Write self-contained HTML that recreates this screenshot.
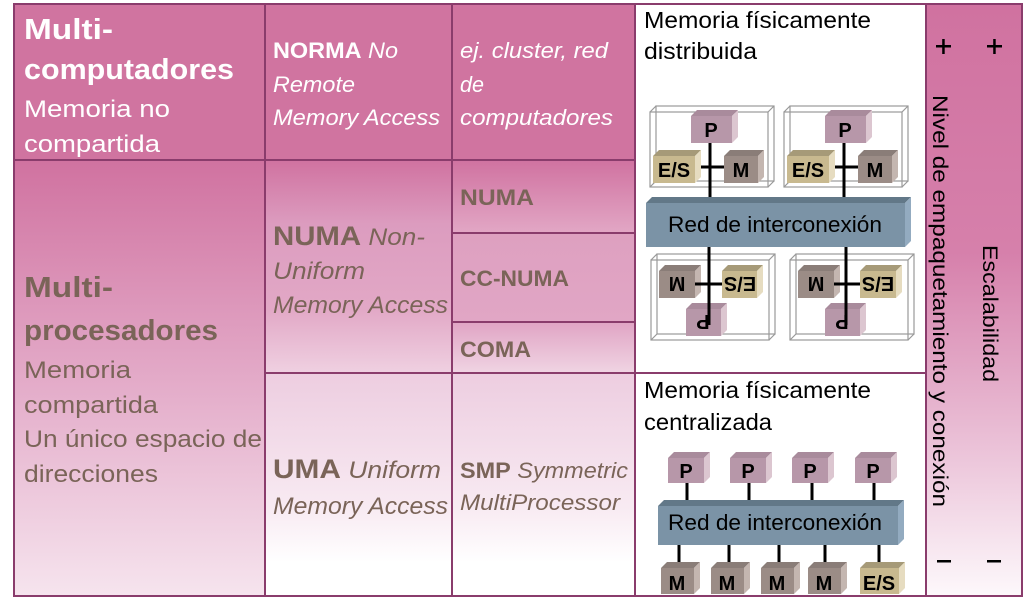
<!DOCTYPE html>
<html><head><meta charset="utf-8"><style>
html,body{margin:0;padding:0;background:#fff;width:1036px;height:603px;overflow:hidden}
svg{display:block}
text{font-family:"Liberation Sans",sans-serif}
</style></head><body>
<svg width="1036" height="603" viewBox="0 0 1036 603" xmlns="http://www.w3.org/2000/svg">
<defs>
<linearGradient id="gMP" x1="0" y1="0" x2="0" y2="1"><stop offset="0" stop-color="#d072a0"/><stop offset="0.5" stop-color="#e3aac8"/><stop offset="1" stop-color="#f6e4ee"/></linearGradient>
<linearGradient id="gNUMA" x1="0" y1="0" x2="0" y2="1"><stop offset="0" stop-color="#d072a0"/><stop offset="0.3" stop-color="#dc9cbf"/><stop offset="0.7" stop-color="#e2a8c6"/><stop offset="1" stop-color="#efd0e1"/></linearGradient>
<linearGradient id="gUMA" x1="0" y1="0" x2="0" y2="1"><stop offset="0" stop-color="#edcde0"/><stop offset="0.6" stop-color="#f8eaf2"/><stop offset="0.85" stop-color="#ffffff"/></linearGradient>
<linearGradient id="gS1" x1="0" y1="0" x2="0" y2="1"><stop offset="0" stop-color="#d072a0"/><stop offset="1" stop-color="#e2a7c5"/></linearGradient>
<linearGradient id="gS2" x1="0" y1="0" x2="0" y2="1"><stop offset="0" stop-color="#dea0c0"/><stop offset="1" stop-color="#e1a6c5"/></linearGradient>
<linearGradient id="gS3" x1="0" y1="0" x2="0" y2="1"><stop offset="0" stop-color="#e0a4c4"/><stop offset="1" stop-color="#f0d4e3"/></linearGradient>
<linearGradient id="gR" x1="0" y1="0" x2="0" y2="1"><stop offset="0" stop-color="#d072a0"/><stop offset="0.42" stop-color="#d680ab"/><stop offset="0.75" stop-color="#ebc2d8"/><stop offset="1" stop-color="#fdf8fb"/></linearGradient>
</defs>

<rect x="14" y="4" width="621" height="156" fill="#d074a0"/>
<rect x="14" y="160" width="251" height="436" fill="url(#gMP)"/>
<rect x="265" y="160" width="187" height="213" fill="url(#gNUMA)"/>
<rect x="452" y="160" width="183" height="73" fill="url(#gS1)"/>
<rect x="452" y="233" width="183" height="89" fill="url(#gS2)"/>
<rect x="452" y="322" width="183" height="51" fill="url(#gS3)"/>
<rect x="265" y="373" width="370" height="223" fill="url(#gUMA)"/>
<rect x="635" y="4" width="291" height="592" fill="#fff"/>
<rect x="926" y="4" width="96" height="592" fill="url(#gR)"/>

<g stroke="#8a3c6c" stroke-width="2" fill="none">
<rect x="14" y="4" width="1008" height="592"/>
<line x1="265" y1="4" x2="265" y2="596"/>
<line x1="452" y1="4" x2="452" y2="596"/>
<line x1="635" y1="4" x2="635" y2="596"/>
<line x1="926" y1="4" x2="926" y2="596"/>
<line x1="14" y1="160" x2="635" y2="160"/>
<line x1="452" y1="233" x2="635" y2="233"/>
<line x1="452" y1="322" x2="635" y2="322"/>
<line x1="265" y1="373" x2="926" y2="373"/>
</g>

<g fill="#fff">
<text x="24" y="39" font-size="29" font-weight="bold" textLength="89" lengthAdjust="spacingAndGlyphs">Multi-</text>
<text x="24" y="79" font-size="29" font-weight="bold" textLength="210" lengthAdjust="spacingAndGlyphs">computadores</text>
<text x="24" y="117" font-size="24" textLength="146" lengthAdjust="spacingAndGlyphs">Memoria no</text>
<text x="24" y="152" font-size="24" textLength="136" lengthAdjust="spacingAndGlyphs">compartida</text>
<text x="273" y="58" font-size="22" textLength="125" lengthAdjust="spacingAndGlyphs"><tspan font-weight="bold">NORMA</tspan> <tspan font-style="italic">No</tspan></text>
<text x="273" y="92" font-size="22" font-style="italic" textLength="82" lengthAdjust="spacingAndGlyphs">Remote</text>
<text x="273" y="125" font-size="22" font-style="italic" textLength="167" lengthAdjust="spacingAndGlyphs">Memory Access</text>
<text x="460" y="58" font-size="22" font-style="italic" textLength="148" lengthAdjust="spacingAndGlyphs">ej. cluster, red</text>
<text x="460" y="92" font-size="22" font-style="italic" textLength="24" lengthAdjust="spacingAndGlyphs">de</text>
<text x="460" y="125" font-size="22" font-style="italic" textLength="153" lengthAdjust="spacingAndGlyphs">computadores</text>
</g>
<g fill="#7a6458">
<text x="24" y="297" font-size="29" font-weight="bold" textLength="89" lengthAdjust="spacingAndGlyphs">Multi-</text>
<text x="24" y="340" font-size="29" font-weight="bold" textLength="194" lengthAdjust="spacingAndGlyphs">procesadores</text>
<text x="24" y="378" font-size="24" textLength="107" lengthAdjust="spacingAndGlyphs">Memoria</text>
<text x="24" y="413" font-size="24" textLength="134" lengthAdjust="spacingAndGlyphs">compartida</text>
<text x="24" y="447" font-size="24" textLength="238" lengthAdjust="spacingAndGlyphs">Un único espacio de</text>
<text x="24" y="482" font-size="24" textLength="134" lengthAdjust="spacingAndGlyphs">direcciones</text>
<text x="273" y="245" font-size="24" textLength="152" lengthAdjust="spacingAndGlyphs"><tspan font-weight="bold" font-size="27">NUMA</tspan> <tspan font-style="italic">Non-</tspan></text>
<text x="273" y="279" font-size="24" font-style="italic" textLength="92" lengthAdjust="spacingAndGlyphs">Uniform</text>
<text x="273" y="313" font-size="24" font-style="italic" textLength="175" lengthAdjust="spacingAndGlyphs">Memory Access</text>
<text x="460" y="205" font-size="22" font-weight="bold" textLength="74" lengthAdjust="spacingAndGlyphs">NUMA</text>
<text x="460" y="286" font-size="22" font-weight="bold" textLength="109" lengthAdjust="spacingAndGlyphs">CC-NUMA</text>
<text x="460" y="357" font-size="22" font-weight="bold" textLength="71" lengthAdjust="spacingAndGlyphs">COMA</text>
<text x="273" y="478" font-size="24" textLength="168" lengthAdjust="spacingAndGlyphs"><tspan font-weight="bold" font-size="27">UMA</tspan> <tspan font-style="italic">Uniform</tspan></text>
<text x="273" y="514" font-size="24" font-style="italic" textLength="175" lengthAdjust="spacingAndGlyphs">Memory Access</text>
<text x="460" y="478" font-size="22" textLength="168" lengthAdjust="spacingAndGlyphs"><tspan font-weight="bold">SMP</tspan> <tspan font-style="italic">Symmetric</tspan></text>
<text x="460" y="510" font-size="22" font-style="italic" textLength="160" lengthAdjust="spacingAndGlyphs">MultiProcessor</text>
</g>

<g fill="#000" font-size="23">
<text x="644" y="28" textLength="227" lengthAdjust="spacingAndGlyphs">Memoria físicamente</text>
<text x="644" y="59" textLength="113" lengthAdjust="spacingAndGlyphs">distribuida</text>
<text x="644" y="398" textLength="227" lengthAdjust="spacingAndGlyphs">Memoria físicamente</text>
<text x="644" y="430" textLength="128" lengthAdjust="spacingAndGlyphs">centralizada</text>
</g>

<g stroke="#999" stroke-width="1.2" fill="none">
<rect x="650" y="112" width="118" height="75"/><rect x="656" y="106" width="118" height="75"/>
<line x1="650" y1="112" x2="656" y2="106"/><line x1="768" y1="112" x2="774" y2="106"/><line x1="650" y1="187" x2="656" y2="181"/><line x1="768" y1="187" x2="774" y2="181"/>
<rect x="784" y="112" width="118" height="75"/><rect x="790" y="106" width="118" height="75"/>
<line x1="784" y1="112" x2="790" y2="106"/><line x1="902" y1="112" x2="908" y2="106"/><line x1="784" y1="187" x2="790" y2="181"/><line x1="902" y1="187" x2="908" y2="181"/>
<rect x="651" y="260" width="118" height="80"/><rect x="657" y="254" width="118" height="80"/>
<line x1="651" y1="260" x2="657" y2="254"/><line x1="769" y1="260" x2="775" y2="254"/><line x1="651" y1="340" x2="657" y2="334"/><line x1="769" y1="340" x2="775" y2="334"/>
<rect x="790" y="260" width="118" height="80"/><rect x="796" y="254" width="118" height="80"/>
<line x1="790" y1="260" x2="796" y2="254"/><line x1="908" y1="260" x2="914" y2="254"/><line x1="790" y1="340" x2="796" y2="334"/><line x1="908" y1="340" x2="914" y2="334"/>
</g>

<g>
<polygon points="691,116 697,110 738,110 732,116" fill="#a98b9c"/><polygon points="732,116 738,110 738,137 732,143" fill="#dcc6d0"/><rect x="691" y="116" width="41" height="27" fill="#b797a9"/>
<polygon points="653,156 659,150 701,150 695,156" fill="#a69a78"/><polygon points="695,156 701,150 701,177 695,183" fill="#e6dcc0"/><rect x="653" y="156" width="42" height="27" fill="#c8b98f"/>
<polygon points="724,156 730,150 764,150 758,156" fill="#8a7d78"/><polygon points="758,156 764,150 764,177 758,183" fill="#c4b6b0"/><rect x="724" y="156" width="34" height="27" fill="#9b8c86"/>
<polygon points="825,116 831,110 872,110 866,116" fill="#a98b9c"/><polygon points="866,116 872,110 872,137 866,143" fill="#dcc6d0"/><rect x="825" y="116" width="41" height="27" fill="#b797a9"/>
<polygon points="787,156 793,150 835,150 829,156" fill="#a69a78"/><polygon points="829,156 835,150 835,177 829,183" fill="#e6dcc0"/><rect x="787" y="156" width="42" height="27" fill="#c8b98f"/>
<polygon points="858,156 864,150 898,150 892,156" fill="#8a7d78"/><polygon points="892,156 898,150 898,177 892,183" fill="#c4b6b0"/><rect x="858" y="156" width="34" height="27" fill="#9b8c86"/>
<polygon points="659,271 665,265 701,265 695,271" fill="#8a7d78"/><polygon points="695,271 701,265 701,292 695,298" fill="#c4b6b0"/><rect x="659" y="271" width="36" height="27" fill="#9b8c86"/>
<polygon points="722,271 728,265 763,265 757,271" fill="#a69a78"/><polygon points="757,271 763,265 763,292 757,298" fill="#e6dcc0"/><rect x="722" y="271" width="35" height="27" fill="#c8b98f"/>
<polygon points="686,309 692,303 727,303 721,309" fill="#a98b9c"/><polygon points="721,309 727,303 727,330 721,336" fill="#dcc6d0"/><rect x="686" y="309" width="35" height="27" fill="#b797a9"/>
<polygon points="798,271 804,265 840,265 834,271" fill="#8a7d78"/><polygon points="834,271 840,265 840,292 834,298" fill="#c4b6b0"/><rect x="798" y="271" width="36" height="27" fill="#9b8c86"/>
<polygon points="860,271 866,265 902,265 896,271" fill="#a69a78"/><polygon points="896,271 902,265 902,292 896,298" fill="#e6dcc0"/><rect x="860" y="271" width="36" height="27" fill="#c8b98f"/>
<polygon points="825,309 831,303 866,303 860,309" fill="#a98b9c"/><polygon points="860,309 866,303 866,330 860,336" fill="#dcc6d0"/><rect x="825" y="309" width="35" height="27" fill="#b797a9"/>
</g>
<g stroke="#000" stroke-width="3">
<line x1="710" y1="143" x2="710" y2="202"/><line x1="701" y1="167" x2="724" y2="167"/>
<line x1="844" y1="143" x2="844" y2="202"/><line x1="835" y1="167" x2="858" y2="167"/>
<line x1="709" y1="247" x2="709" y2="325"/><line x1="695" y1="284" x2="722" y2="284"/>
<line x1="846" y1="247" x2="846" y2="325"/><line x1="834" y1="284" x2="860" y2="284"/>
</g>
<polygon points="646,203 652,197 911,197 905,203" fill="#627888"/><polygon points="905,203 911,197 911,241 905,247" fill="#93abc0"/><rect x="646" y="203" width="259" height="44" fill="#7b93a6"/>
<text x="775" y="232" font-size="22" text-anchor="middle" fill="#000" textLength="214" lengthAdjust="spacingAndGlyphs">Red de interconexión</text>
<g font-size="20" font-weight="bold" fill="#000" text-anchor="middle">
<text x="711" y="137">P</text><text x="674" y="177">E/S</text><text x="741" y="177">M</text>
<text x="845" y="137">P</text><text x="808" y="177">E/S</text><text x="875" y="177">M</text>
<g transform="rotate(180 677 284)"><text x="677" y="291">M</text></g>
<g transform="rotate(180 740 284)"><text x="740" y="291">E/S</text></g>
<g transform="rotate(180 703 322)"><text x="703" y="329">P</text></g>
<g transform="rotate(180 816 284)"><text x="816" y="291">M</text></g>
<g transform="rotate(180 878 284)"><text x="878" y="291">E/S</text></g>
<g transform="rotate(180 842 322)"><text x="842" y="329">P</text></g>
</g>

<g stroke="#000" stroke-width="3">
<line x1="687" y1="483" x2="687" y2="502"/><line x1="749" y1="483" x2="749" y2="502"/><line x1="812" y1="483" x2="812" y2="502"/><line x1="874" y1="483" x2="874" y2="502"/>
<line x1="679" y1="545" x2="679" y2="562"/><line x1="729" y1="545" x2="729" y2="562"/><line x1="779" y1="545" x2="779" y2="562"/><line x1="825" y1="545" x2="825" y2="562"/><line x1="879" y1="545" x2="879" y2="562"/>
</g>
<g>
<polygon points="668,458 674,452 710,452 704,458" fill="#a98b9c"/><polygon points="704,458 710,452 710,477 704,483" fill="#dcc6d0"/><rect x="668" y="458" width="36" height="25" fill="#b797a9"/>
<polygon points="730,458 736,452 772,452 766,458" fill="#a98b9c"/><polygon points="766,458 772,452 772,477 766,483" fill="#dcc6d0"/><rect x="730" y="458" width="36" height="25" fill="#b797a9"/>
<polygon points="792,458 798,452 834,452 828,458" fill="#a98b9c"/><polygon points="828,458 834,452 834,477 828,483" fill="#dcc6d0"/><rect x="792" y="458" width="36" height="25" fill="#b797a9"/>
<polygon points="855,458 861,452 897,452 891,458" fill="#a98b9c"/><polygon points="891,458 897,452 897,477 891,483" fill="#dcc6d0"/><rect x="855" y="458" width="36" height="25" fill="#b797a9"/>
<polygon points="658,506 664,500 904,500 898,506" fill="#627888"/><polygon points="898,506 904,500 904,539 898,545" fill="#93abc0"/><rect x="658" y="506" width="240" height="39" fill="#7b93a6"/>
<polygon points="661,568 667,562 700,562 694,568" fill="#8a7d78"/><polygon points="694,568 700,562 700,588 694,594" fill="#c4b6b0"/><rect x="661" y="568" width="33" height="26" fill="#9b8c86"/>
<polygon points="711,568 717,562 750,562 744,568" fill="#8a7d78"/><polygon points="744,568 750,562 750,588 744,594" fill="#c4b6b0"/><rect x="711" y="568" width="33" height="26" fill="#9b8c86"/>
<polygon points="761,568 767,562 800,562 794,568" fill="#8a7d78"/><polygon points="794,568 800,562 800,588 794,594" fill="#c4b6b0"/><rect x="761" y="568" width="33" height="26" fill="#9b8c86"/>
<polygon points="808,568 814,562 847,562 841,568" fill="#8a7d78"/><polygon points="841,568 847,562 847,588 841,594" fill="#c4b6b0"/><rect x="808" y="568" width="33" height="26" fill="#9b8c86"/>
<polygon points="860,568 866,562 905,562 899,568" fill="#a69a78"/><polygon points="899,568 905,562 905,588 899,594" fill="#e6dcc0"/><rect x="860" y="568" width="39" height="26" fill="#c8b98f"/>
</g>
<text x="775" y="530" font-size="22" text-anchor="middle" fill="#000" textLength="214" lengthAdjust="spacingAndGlyphs">Red de interconexión</text>
<g font-size="20" font-weight="bold" fill="#000" text-anchor="middle">
<text x="686" y="478">P</text><text x="748" y="478">P</text><text x="810" y="478">P</text><text x="873" y="478">P</text>
<text x="677" y="590">M</text><text x="727" y="590">M</text><text x="777" y="590">M</text><text x="824" y="590">M</text><text x="879" y="590">E/S</text>
</g>

<g fill="#000">
<rect x="936" y="45" width="15" height="2.5"/><rect x="942.2" y="39" width="2.5" height="15"/>
<rect x="987" y="45" width="15" height="2.5"/><rect x="993.2" y="39" width="2.5" height="15"/>
<rect x="937" y="560" width="14" height="2.5"/>
<rect x="987" y="560" width="14" height="2.5"/>
<g transform="translate(933 95) rotate(90)"><text x="0" y="0" font-size="21" textLength="412" lengthAdjust="spacingAndGlyphs">Nivel de empaquetamiento y conexión</text></g>
<g transform="translate(983 245) rotate(90)"><text x="0" y="0" font-size="21" textLength="137" lengthAdjust="spacingAndGlyphs">Escalabilidad</text></g>
</g>
</svg>
</body></html>
